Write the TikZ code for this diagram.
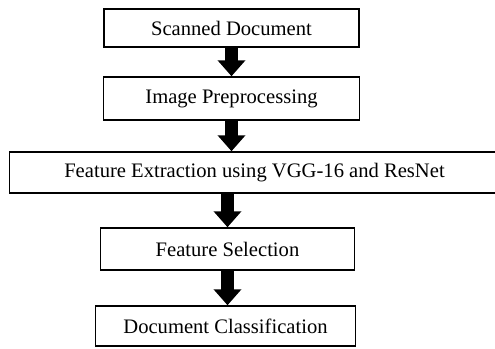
\documentclass[tikz,border=0pt]{standalone}
\usepackage{fontspec}
\setmainfont{Liberation Serif}
\usetikzlibrary{arrows.meta}

\begin{document}
\begin{tikzpicture}[x=1pt, y=1pt, node distance=74pt, font=\fontsize{20.6}{24}\selectfont]
        \tikzstyle{stage}=[rectangle,draw=black,line width=1.5pt,fill=white,inner sep=0pt,minimum height=40pt,align=center]
        \tikzstyle{flow}=[draw=black,line width=13pt,-{Triangle[width=27pt,length=16pt]}]

        \useasboundingbox (0,0) rectangle (495,-348);

        \node[stage, minimum width=255pt, minimum height=38pt] (scan) at (231.5,-28) {Scanned Document};
        \node[stage, below of=scan, node distance=70.5pt, minimum width=256pt, minimum height=43pt] (prep) {Image Preprocessing};
        \node[stage, below of=prep, node distance=74pt, xshift=23pt, minimum width=490pt, minimum height=41pt] (feat) {Feature Extraction using VGG-16 and ResNet};
        \node[stage, below of=feat, node distance=76.5pt, xshift=-27pt, minimum width=254pt, minimum height=42pt] (sel) {Feature Selection};
        \node[stage, below of=sel, node distance=77pt, xshift=-2pt, minimum width=260pt, minimum height=40pt] (cls) {Document Classification};

        \draw[flow] (scan) -- (prep);
        \draw[flow] (prep.south) -- (prep.south |- feat.north);
        \draw[flow] (sel.north |- feat.south) -- (sel.north);
        \draw[flow] (sel.south) -- (sel.south |- cls.north);
    \end{tikzpicture}
\end{document}
